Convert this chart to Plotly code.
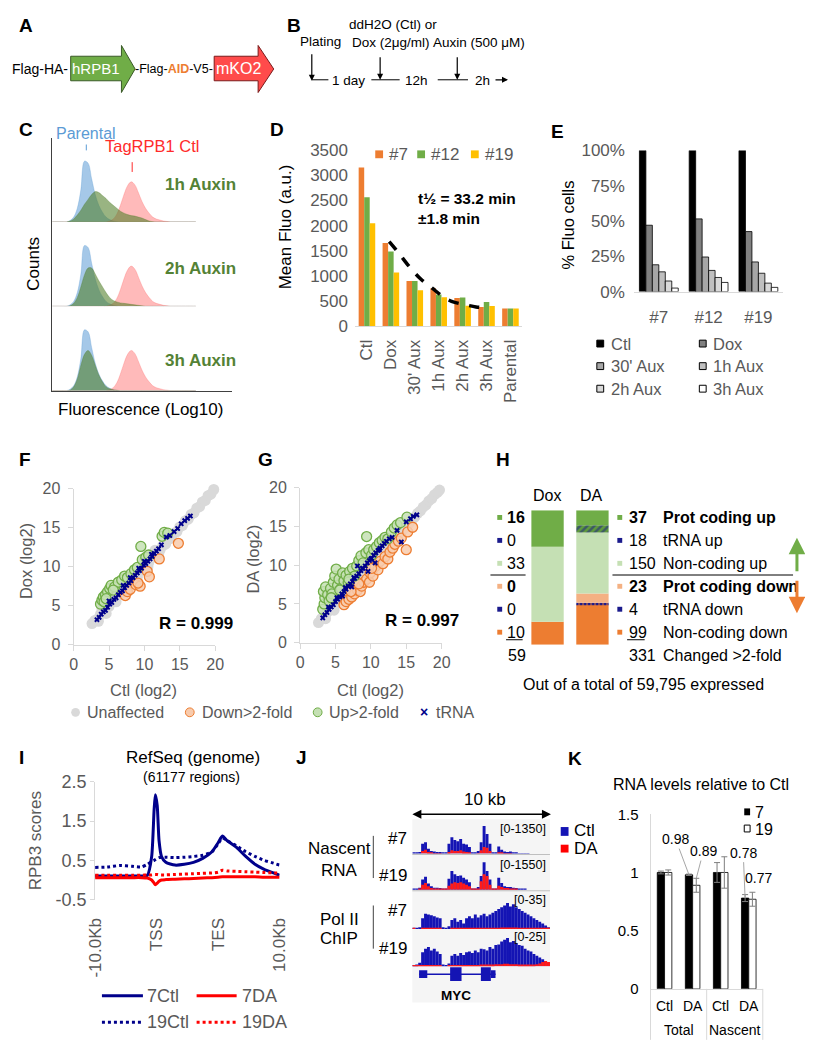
import plotly.graph_objects as go

# The page body keeps the browser's default 8px margin, so the figure is sized to
# fill the 813x1050 window exactly inside that margin.
PAD = 8
W, H = 813 - 2 * PAD, 1050 - 2 * PAD
def X(px): return (px - PAD) / W
def Y(py): return 1 - (py - PAD) / H

FONT = "Liberation Sans, Arial, Helvetica, sans-serif"
BLACK = "#000000"
GRAY = "#595959"
AXGRAY = "#d9d9d9"
ORANGE = "#ED7D31"
LORANGE = "#F4B183"
GREEN = "#70AD47"
LGREEN = "#C5E0B4"
YELLOW = "#FFC000"
NAVY = "#00008B"
RED = "#FF0000"

# ================= DATA =================
# Panel C : flow cytometry histograms (fluorescence bin -> counts)
C_bins = [0, 2, 4, 6, 8, 10, 12, 14, 16, 18, 20, 22, 24, 26, 28, 30, 32, 34, 36, 38, 40,
          42, 44, 46, 48, 50, 52, 54, 56, 58, 60, 62, 64, 66, 68, 70, 72, 74, 76, 78, 80]
C_parental = [0, 0, 0, 0, 0, 1.5, 5, 14, 33, 62, 60, 44, 28, 17, 10, 5, 2.5, 1, 0.3, 0, 0,
              0, 0, 0, 0, 0, 0, 0, 0, 0, 0, 0, 0, 0, 0, 0, 0, 0, 0, 0, 0]
C_tag_ctl = [0, 0, 0, 0, 0, 0, 0, 0, 0, 0, 0, 0, 0, 0, 0, 0, 1, 3, 8, 17, 28,
             37, 41, 38, 30, 21, 14, 9, 5, 3, 2, 1, 0.5, 0, 0, 0, 0, 0, 0, 0, 0]
C_aux_1h = [0, 0, 0, 0, 0, 1, 3, 7, 12, 18, 23, 28, 31, 30, 27, 24, 20, 17, 14, 11, 9,
            7.5, 6.5, 6, 5, 4, 2.5, 1, 0.3, 0, 0, 0, 0, 0, 0, 0, 0, 0, 0, 0, 0]
C_aux_2h = [0, 0, 0, 0, 0, 0.5, 3, 9, 20, 32, 39, 39, 33, 26, 20, 14, 9, 6, 4.5, 3.5, 3,
            2.5, 2, 1.5, 1, 0.5, 0, 0, 0, 0, 0, 0, 0, 0, 0, 0, 0, 0, 0, 0, 0]
C_aux_3h = [0, 0, 0, 0, 0, 0.5, 4, 12, 26, 37, 41, 36, 26, 16, 9, 4, 2, 1, 0.3, 0, 0,
            0, 0, 0, 0, 0, 0, 0, 0, 0, 0, 0, 0, 0, 0, 0, 0, 0, 0, 0, 0]
C_rows = ["1h Auxin", "2h Auxin", "3h Auxin"]

# Panel D : mean fluorescence
D_conditions = ["Ctl", "Dox", "30' Aux", "1h Aux", "2h Aux", "3h Aux", "Parental"]
D_clones = ["#7", "#12", "#19"]
D_clone7 = [3160, 1655, 895, 750, 555, 375, 347]
D_clone12 = [2565, 1485, 895, 625, 565, 478, 347]
D_clone19 = [2045, 1066, 710, 570, 400, 395, 347]
D_fit_pos = [0.93, 1.3, 1.78, 2.25, 2.73, 3.13, 3.54, 4.22, 4.56, 4.97]
D_fit_val = [1680, 1470, 1178, 935, 752, 602, 491, 412, 379, 360]

# Panel E : % fluorescent cells
E_clones = ["#7", "#12", "#19"]
E_conditions = ["Ctl", "Dox", "30' Aux", "1h Aux", "2h Aux", "3h Aux"]
E_ctl = [100, 100, 100]
E_dox = [47, 51.5, 42.5]
E_30m = [19, 24.5, 21]
E_1h = [14, 15, 13]
E_2h = [7.5, 10, 6]
E_3h = [2.5, 6.5, 3]
E_ticks = [0, 25, 50, 75, 100]

# Panel F : Dox vs Ctl (log2)
F_unaff_x = [2.6, 3.0, 3.4, 3.8, 4.2, 4.6, 5.0, 5.4, 5.8, 6.2, 6.6, 7.0, 7.4, 7.8, 8.2, 8.6, 9.0,
             9.4, 9.8, 10.2, 10.6, 11.0, 11.4, 11.8, 12.2, 12.6, 13.0, 13.4, 13.8, 14.2, 14.6,
             15.0, 15.4, 15.8, 16.2, 16.6, 17.0, 17.4, 17.8, 18.2, 18.6, 19.0, 19.4, 19.8,
             3.5, 4.6, 6.0, 7.5, 9.0, 10.5, 12.0, 4.0, 5.5, 7.0, 8.5, 10.0, 11.5]
F_unaff_y = [2.7, 3.1, 3.3, 3.9, 4.1, 4.7, 4.9, 5.5, 5.7, 6.3, 6.5, 7.1, 7.3, 7.9, 8.1, 8.7, 8.9,
             9.5, 9.7, 10.3, 10.5, 11.1, 11.3, 11.9, 12.1, 12.7, 12.9, 13.5, 13.7, 14.3, 14.5,
             15.1, 15.3, 15.9, 16.1, 16.7, 16.9, 17.5, 17.7, 18.3, 18.5, 19.1, 19.3, 19.9,
             3.0, 4.0, 5.5, 7.0, 8.6, 10.0, 11.6, 4.6, 6.0, 7.6, 9.1, 10.6, 12.1]
F_down_x = [7.3, 7.6, 8.0, 8.8, 9.4, 10.4, 10.7, 12.1, 14.8, 9.1]
F_down_y = [6.3, 6.8, 7.1, 7.7, 7.5, 9.4, 8.7, 11.0, 13.0, 7.9]
F_up_x = [3.8, 4.0, 4.2, 4.3, 4.5, 4.8, 5.1, 5.3, 5.8, 6.3, 6.8, 7.2, 7.6, 8.1, 8.6, 9.0, 9.5,
          9.7, 10.2, 10.6, 12.5, 12.8, 13.3, 5.6, 4.6]
F_up_y = [5.2, 5.7, 6.1, 5.5, 6.4, 6.8, 7.2, 7.6, 7.4, 8.0, 8.3, 8.8, 8.6, 9.1, 9.6, 9.9, 12.6,
          10.9, 11.2, 11.5, 13.9, 14.4, 14.3, 7.0, 5.9]
F_trna_x = [3.3, 3.6, 3.9, 4.2, 4.5, 4.8, 5.1, 5.4, 5.7, 6.0, 6.3, 6.6, 6.9, 7.2, 7.5, 7.8, 8.1,
            8.4, 8.7, 9.0, 9.3, 9.6, 9.9, 10.2, 10.5, 10.8, 11.1, 11.4, 11.7, 12.0, 12.4, 13.1,
            13.6, 14.2, 14.7, 15.2, 15.7, 16.1, 16.5, 8.0, 9.2, 10.0, 7.0, 5.0, 11.0]
F_trna_y = [3.2, 3.5, 3.9, 4.2, 4.4, 4.8, 5.2, 5.4, 5.8, 6.0, 6.4, 6.7, 6.9, 7.3, 7.6, 7.9, 8.2,
            8.6, 8.9, 9.2, 9.5, 9.8, 10.2, 10.4, 10.7, 11.0, 11.3, 11.7, 12.0, 12.3, 12.8, 13.8,
            14.0, 14.5, 14.9, 15.5, 15.9, 16.2, 16.5, 8.6, 9.8, 10.7, 7.6, 5.6, 11.6]

# Panel G : DA vs Ctl (log2)
G_unaff_x = [2.6, 3.0, 3.4, 3.8, 4.2, 4.6, 5.0, 5.4, 5.8, 6.2, 6.6, 7.0, 7.4, 7.8, 8.2, 8.6, 9.0,
             9.4, 9.8, 10.2, 10.6, 11.0, 11.4, 11.8, 12.2, 12.6, 13.0, 13.4, 13.8, 14.2, 14.6,
             15.0, 15.4, 15.8, 16.2, 16.6, 17.0, 17.4, 17.8, 18.2, 18.6, 19.0, 19.4, 19.7,
             3.6, 4.8, 6.1, 7.4, 8.9, 10.4, 12.1, 4.1, 5.6, 7.1, 8.4, 9.9, 11.4]
G_unaff_y = [2.6, 3.1, 3.4, 3.9, 4.2, 4.7, 5.0, 5.5, 5.8, 6.3, 6.6, 7.1, 7.4, 7.9, 8.2, 8.7, 9.0,
             9.5, 9.8, 10.3, 10.6, 11.1, 11.4, 11.9, 12.2, 12.7, 13.0, 13.5, 13.8, 14.3, 14.6,
             15.1, 15.4, 15.9, 16.2, 16.7, 17.0, 17.5, 17.8, 18.3, 18.6, 19.1, 19.4, 19.7,
             3.1, 4.2, 5.6, 6.9, 8.4, 9.9, 11.6, 4.7, 6.1, 7.6, 9.0, 10.5, 11.9]
G_down_x = [6.2, 6.5, 6.9, 7.3, 7.7, 8.1, 8.5, 8.7, 9.0, 9.4, 9.8, 9.9, 10.3, 10.6, 11.0, 11.3,
            11.7, 12.0, 12.4, 12.7, 13.1, 13.4, 13.9, 14.3, 15.0, 15.2, 15.9, 7.2, 8.3, 10.1]
G_down_y = [4.9, 5.3, 5.6, 5.9, 6.3, 6.8, 6.6, 7.3, 7.8, 8.2, 7.8, 9.0, 8.6, 9.8, 9.4, 10.5,
            10.2, 11.1, 10.8, 11.7, 12.2, 12.7, 13.1, 13.5, 12.0, 14.3, 14.9, 6.6, 7.6, 9.6]
G_up_x = [3.2, 3.4, 3.5, 3.3, 3.6, 3.9, 4.1, 4.3, 4.5, 4.7, 4.9, 5.1, 5.3, 5.5, 5.8, 6.0, 6.2,
          6.5, 6.8, 7.0, 7.4, 7.7, 8.0, 8.3, 8.6, 8.9, 9.3, 9.4, 9.7, 10.1, 10.4, 10.8, 11.2,
          11.6, 12.0, 12.4, 12.9, 13.3, 13.7, 14.2, 15.1, 6.9, 5.6, 4.4]
G_up_y = [4.3, 5.0, 5.8, 6.6, 7.2, 6.2, 5.4, 7.0, 6.3, 7.8, 8.6, 9.5, 7.4, 8.2, 7.0, 9.0, 8.0,
          8.7, 7.8, 9.2, 9.6, 8.6, 9.9, 10.6, 11.2, 10.3, 11.6, 13.7, 12.0, 11.3, 12.0, 12.4,
          12.9, 13.2, 13.6, 13.4, 14.3, 14.8, 15.2, 15.5, 16.2, 8.2, 6.8, 5.8]
G_trna_x = [3.2, 3.5, 3.8, 4.1, 4.4, 4.7, 5.0, 5.3, 5.6, 5.9, 6.2, 6.5, 6.8, 7.1, 7.4, 7.7, 8.0,
            8.3, 8.6, 8.9, 9.2, 9.5, 9.8, 10.1, 10.4, 10.7, 11.0, 11.3, 11.6, 11.9, 12.2, 12.6,
            4.0, 5.2, 6.4, 7.6, 8.8, 10.0, 11.2, 6.0, 7.3, 8.1, 9.6, 10.6,
            13.0, 13.7, 14.3, 15.0, 15.6, 16.0, 16.5]
G_trna_y = [3.2, 3.6, 3.9, 4.3, 4.6, 4.9, 5.3, 5.6, 5.9, 6.3, 6.6, 6.9, 7.3, 7.6, 7.9, 8.3, 8.6,
            8.9, 9.3, 9.6, 9.9, 10.3, 10.6, 10.9, 11.3, 11.6, 11.9, 12.2, 12.5, 12.8, 13.1, 13.4,
            4.6, 5.8, 7.1, 8.4, 9.6, 10.8, 12.0, 6.0, 7.2, 9.9, 9.2, 10.3,
            13.6, 14.5, 13.0, 15.6, 16.0, 16.3, 16.5]

# Panel H : number of changed transcripts (top to bottom)
H_types = ["Prot coding up", "tRNA up", "Non-coding up",
           "Prot coding down", "tRNA down", "Non-coding down"]
H_dox = [16, 0, 33, 0, 0, 10]
H_da = [37, 18, 150, 23, 4, 99]
H_expressed = "59,795"

# Panel I : metagene profile (position: 0=-10kb, 1=TSS, 2=TES, 3=+10kb)
I_pos = [0, 0.2, 0.4, 0.6, 0.75, 0.85, 0.92, 0.96, 0.98, 1.01, 1.04, 1.08, 1.15, 1.3, 1.45,
         1.6, 1.75, 1.9, 2.0, 2.07, 2.15, 2.3, 2.45, 2.6, 2.75, 2.9, 3.0]
I_7ctl = [0.1, 0.1, 0.1, 0.1, 0.1, 0.12, 0.6, 1.8, 2.17, 1.9, 1.0, 0.6, 0.45, 0.38, 0.4,
          0.45, 0.55, 0.72, 0.95, 1.12, 1.0, 0.83, 0.6, 0.4, 0.27, 0.18, 0.12]
I_19ctl = [0.32, 0.33, 0.37, 0.35, 0.33, 0.4, 0.47, 0.5, 0.52, 0.55, 0.57, 0.58, 0.58, 0.57,
           0.58, 0.6, 0.63, 0.72, 0.92, 1.07, 1.0, 0.87, 0.72, 0.6, 0.5, 0.43, 0.38]
I_7da = [0.06, 0.06, 0.06, 0.06, 0.06, 0.05, 0.0, -0.08, -0.12, -0.08, -0.03, 0.0, 0.01, 0.02,
         0.03, 0.04, 0.05, 0.06, 0.07, 0.08, 0.08, 0.08, 0.08, 0.08, 0.07, 0.07, 0.07]
I_19da = [0.12, 0.12, 0.12, 0.12, 0.12, 0.13, 0.13, 0.14, 0.14, 0.14, 0.13, 0.13, 0.13, 0.14,
          0.15, 0.16, 0.17, 0.18, 0.2, 0.25, 0.23, 0.22, 0.21, 0.2, 0.19, 0.18, 0.18]

# Panel J : genome browser tracks (normalised height per bin)
J_nas7_ctl = [0.02, 0.02, 0.05, 0.3, 0.35, 0.15, 0.08, 0.06, 0.05, 0.05, 0.02, 0.02, 0.3, 0.5,
              0.42, 0.38, 0.45, 0.3, 0.28, 0.2, 0.03, 0.03, 0.08, 0.35, 0.85, 0.6, 0.3, 0.03,
              0.02, 0.22, 0.12, 0.06, 0.05, 0.06, 0.04, 0.03, 0.01, 0.01, 0.01, 0.01, 0, 0, 0,
              0, 0, 0, 0]
J_nas7_da = [0, 0, 0, 0.08, 0.12, 0.05, 0.02, 0.01, 0.01, 0.01, 0, 0, 0.05, 0.1, 0.08, 0.08,
             0.1, 0.06, 0.05, 0.04, 0, 0, 0.01, 0.1, 0.2, 0.18, 0.08, 0, 0, 0.03, 0.02, 0.01,
             0.01, 0.01, 0, 0, 0, 0, 0, 0, 0, 0, 0, 0, 0, 0, 0]
J_nas19_ctl = [0.02, 0.02, 0.06, 0.3, 0.38, 0.18, 0.1, 0.06, 0.06, 0.05, 0.03, 0.02, 0.32, 0.55,
               0.45, 0.4, 0.42, 0.35, 0.3, 0.22, 0.03, 0.04, 0.08, 0.4, 0.8, 0.55, 0.3, 0.04,
               0.03, 0.35, 0.2, 0.1, 0.08, 0.08, 0.06, 0.05, 0.02, 0.01, 0.01, 0, 0, 0, 0, 0,
               0, 0, 0]
J_nas19_da = [0, 0, 0.02, 0.15, 0.2, 0.1, 0.05, 0.04, 0.03, 0.03, 0.01, 0.01, 0.12, 0.18, 0.22,
              0.2, 0.22, 0.18, 0.15, 0.1, 0.01, 0.01, 0.03, 0.25, 0.45, 0.4, 0.15, 0.01, 0.01,
              0.12, 0.08, 0.05, 0.05, 0.04, 0.03, 0.02, 0, 0, 0, 0, 0, 0, 0, 0, 0, 0, 0]
J_chip7_ctl = [0.03, 0.03, 0.05, 0.3, 0.42, 0.4, 0.38, 0.35, 0.32, 0.3, 0.05, 0.03, 0.08, 0.25,
               0.3, 0.2, 0.25, 0.15, 0.3, 0.35, 0.3, 0.4, 0.32, 0.38, 0.42, 0.35, 0.4, 0.45,
               0.5, 0.55, 0.6, 0.65, 0.72, 0.62, 0.68, 0.6, 0.55, 0.5, 0.45, 0.4, 0.35, 0.3,
               0.25, 0.2, 0.15, 0.1, 0.05]
J_chip7_da = [0.02, 0, 0, 0.02, 0.03, 0.02, 0.02, 0.02, 0.02, 0.02, 0, 0, 0, 0.02, 0.02, 0.01,
              0.02, 0.01, 0.02, 0.02, 0.02, 0.03, 0.02, 0.02, 0.03, 0.02, 0.03, 0.03, 0.03,
              0.03, 0.04, 0.04, 0.04, 0.04, 0.04, 0.04, 0.03, 0.03, 0.03, 0.03, 0.02, 0.02,
              0.02, 0.02, 0.03, 0.03, 0.03]
J_chip19_ctl = [0.03, 0.05, 0.1, 0.4, 0.5, 0.55, 0.45, 0.5, 0.42, 0.35, 0.05, 0.03, 0.08, 0.3,
                0.35, 0.3, 0.38, 0.32, 0.4, 0.42, 0.38, 0.45, 0.4, 0.5, 0.48, 0.45, 0.55, 0.5,
                0.6, 0.62, 0.7, 0.75, 0.8, 0.68, 0.72, 0.65, 0.6, 0.58, 0.5, 0.45, 0.42, 0.35,
                0.3, 0.25, 0.2, 0.15, 0.1]
J_chip19_da = [0.02, 0.02, 0.02, 0.03, 0.04, 0.04, 0.03, 0.03, 0.03, 0.03, 0, 0, 0.01, 0.03,
               0.03, 0.03, 0.03, 0.03, 0.03, 0.04, 0.04, 0.04, 0.04, 0.05, 0.05, 0.05, 0.05,
               0.05, 0.06, 0.06, 0.06, 0.07, 0.07, 0.06, 0.06, 0.06, 0.05, 0.05, 0.05, 0.05,
               0.05, 0.05, 0.06, 0.08, 0.12, 0.15, 0.12]
J_ranges = ["[0-1350]", "[0-1550]", "[0-35]", "[0-25]"]
J_track_names = ["#7", "#19", "#7", "#19"]
MYC_exon_start = [1.8, 12.4, 22.9, 26.3]
MYC_exon_end = [4.6, 16.3, 26.3, 27.9]
MYC_exon_tall = [False, True, True, False]

# Panel K : RNA levels relative to Ctl
K_groups = ["Total", "Total", "Nascent", "Nascent"]
K_conds = ["Ctl", "DA", "Ctl", "DA"]
K_clone7 = [1.0, 0.98, 1.0, 0.78]
K_clone7_err = [0.012, 0.006, 0.085, 0.03]
K_clone19 = [1.0, 0.89, 1.0, 0.77]
K_clone19_err = [0.022, 0.06, 0.135, 0.06]

# ================= FIGURE =================
fig = go.Figure()
ann, shp = [], []

def T(x, y, s, size=14, color=BLACK, xa='center', ya='middle', angle=0):
    ann.append(dict(x=X(x), y=Y(y), xref='paper', yref='paper', text=s, showarrow=False,
                    font=dict(size=size, color=color, family=FONT), xanchor=xa, yanchor=ya,
                    textangle=angle))

def L(x0, y0, x1, y1, color=BLACK, width=1, dash='solid'):
    shp.append(dict(type='line', xref='paper', yref='paper', x0=X(x0), y0=Y(y0), x1=X(x1),
                    y1=Y(y1), line=dict(color=color, width=width, dash=dash)))

def R(x0, y0, x1, y1, fill, line=None, lw=1, layer='above'):
    shp.append(dict(type='rect', xref='paper', yref='paper', x0=X(x0), y0=Y(y0), x1=X(x1),
                    y1=Y(y1), fillcolor=fill, layer=layer,
                    line=dict(color=line if line else fill, width=lw if line else 0)))

def CIRC(cx, cy, r, fill, line=None):
    shp.append(dict(type='circle', xref='paper', yref='paper', x0=X(cx - r), y0=Y(cy + r),
                    x1=X(cx + r), y1=Y(cy - r), fillcolor=fill,
                    line=dict(color=line if line else fill, width=1 if line else 0)))

def POLY(pts, fill, line):
    path = 'M ' + ' L '.join(f'{X(a):.5f},{Y(b):.5f}' for a, b in pts) + ' Z'
    shp.append(dict(type='path', xref='paper', yref='paper', path=path, fillcolor=fill,
                    line=dict(color=line, width=1)))

def ARW(xt, yt, xs, ys, color=BLACK, width=1.2, head=2, size=1.0):
    ann.append(dict(x=X(xt), y=Y(yt), xref='paper', yref='paper', ax=xs - xt, ay=ys - yt,
                    axref='pixel', ayref='pixel', text='', showarrow=True, arrowhead=head,
                    arrowsize=size, arrowwidth=width, arrowcolor=color))

def letter(x, y, s):
    T(max(x, PAD), y, f'<b>{s}</b>', 19, BLACK, 'left')

# ---------- Panel A ----------
letter(0, 16, 'A')
T(62, 60, 'Flag-HA-', 14, xa='right')
POLY([(63, 47), (115, 47), (115, 36), (129, 60), (115, 84), (115, 72), (63, 72)], GREEN, '#3a5a28')
T(89, 60, 'hRPB1', 15, 'white')
T(169, 60, '-Flag-<span style="color:#ED7D31"><b>AID</b></span>-V5-', 12.5)
POLY([(210, 47), (255, 47), (255, 36), (271, 60), (255, 84), (255, 72), (210, 72)], '#FF4B4B', '#7a1a1a')
T(235, 60, 'mKO2', 16, 'white')

# ---------- Panel B ----------
letter(283, 16, 'B')
T(319, 32, 'Plating', 13.5)
T(393, 15, 'ddH2O (Ctl) or', 13.5)
T(391, 33, 'Dox (2μg/ml)', 13.5)
T(481, 33, 'Auxin (500 μM)', 13.5)
ARW(310, 72, 310, 44)
ARW(380, 71, 380, 47)
ARW(459, 71, 459, 47)
L(310, 71, 327, 71)
L(371, 71, 400, 71)
L(439, 71, 470, 71)
ARW(511, 71, 497, 71)
T(348, 72, '1 day', 13.5)
T(417, 72, '12h', 13.5)
T(485, 72, '2h', 13.5)

# ---------- Panel C ----------
letter(3, 122, 'C')
rows_axes = ['y', 'y2', 'y3']
greens = [C_aux_1h, C_aux_2h, C_aux_3h]
for ya, gser in zip(rows_axes, greens):
    fig.add_trace(go.Scatter(x=C_bins, y=C_parental, xaxis='x', yaxis=ya, mode='lines',
                             line=dict(color='rgba(91,155,213,0.6)', width=0.5, shape='spline'),
                             fill='tozeroy', fillcolor='rgba(91,155,213,0.55)', hoverinfo='skip'))
    fig.add_trace(go.Scatter(x=C_bins, y=C_tag_ctl, xaxis='x', yaxis=ya, mode='lines',
                             line=dict(color='rgba(255,90,90,0.5)', width=0.5, shape='spline'),
                             fill='tozeroy', fillcolor='rgba(255,90,90,0.42)', hoverinfo='skip'))
    fig.add_trace(go.Scatter(x=C_bins, y=gser, xaxis='x', yaxis=ya, mode='lines',
                             line=dict(color='rgba(80,125,40,0.6)', width=0.5, shape='spline'),
                             fill='tozeroy', fillcolor='rgba(80,125,40,0.58)', hoverinfo='skip'))
T(79, 126, 'Parental', 16, '#5B9BD5')
L(79, 137, 79, 143, '#5B9BD5', 1)
T(146, 139, 'TagRPB1 Ctl', 16.5, '#FF2B2B')
L(126, 155, 126, 165, '#FF2B2B', 1)
for lab, yy in zip(C_rows, [178, 263, 357]):
    T(196, yy, f'<b>{lab}</b>', 17, '#548235')
T(25, 259, 'Counts', 17, angle=-90)
T(135, 407, 'Fluorescence (Log10)', 17)

# ---------- Panel D ----------
letter(265, 122, 'D')
slotD = 0.231
for i, (vals, col) in enumerate(zip([D_clone7, D_clone12, D_clone19], [ORANGE, GREEN, YELLOW])):
    fig.add_trace(go.Bar(x=list(range(len(D_conditions))), y=vals, xaxis='x2', yaxis='y4',
                         width=slotD, offset=-1.5 * slotD + i * slotD,
                         marker=dict(color=col, line=dict(width=0)), hoverinfo='skip'))
fig.add_trace(go.Scatter(x=D_fit_pos, y=D_fit_val, xaxis='x2', yaxis='y4', mode='lines',
                         line=dict(color=BLACK, width=3.5, dash='dash', shape='spline'),
                         hoverinfo='skip'))
T(283, 221, 'Mean Fluo (a.u.)', 17, angle=-90)
T(417, 192, '<b>t½ = 33.2 min</b>', 15.5, xa='left')
T(417, 212, '<b>±1.8 min</b>', 15.5, xa='left')
for (sx, tx), lab, col in zip([(375, 387), (418, 430), (473, 485)], D_clones, [ORANGE, GREEN, YELLOW]):
    R(sx, 143, sx + 8, 151, col)
    T(tx, 147, lab, 17, GRAY, 'left')

# ---------- Panel E ----------
letter(553, 124, 'E')
E_series = [E_ctl, E_dox, E_30m, E_1h, E_2h, E_3h]
E_colors = ['#000000', '#808080', '#A6A6A6', '#BFBFBF', '#D9D9D9', '#FFFFFF']
slotE = 0.13
for i, (vals, col) in enumerate(zip(E_series, E_colors)):
    fig.add_trace(go.Bar(x=E_clones, y=vals, xaxis='x3', yaxis='y5', width=slotE,
                         offset=-3 * slotE + i * slotE,
                         marker=dict(color=col, line=dict(color=BLACK, width=0.8)),
                         hoverinfo='skip'))
T(572, 219, '% Fluo cells', 16.5, angle=-90)
for k, (lab, col) in enumerate(zip(E_conditions, E_colors)):
    r, c = divmod(k, 2)
    yy = [340, 363, 386][r]
    sx = [602, 707][c]
    R(sx, yy - 3.5, sx + 7, yy + 3.5, col, BLACK, 1)
    T(sx + 12, yy, lab, 16.5, GRAY, 'left')

# ---------- Panels F & G ----------
letter(0, 458, 'F')
letter(253, 458, 'G')
def scatter_set(xa, ya, ux, uy, dx, dy, upx, upy, tx, ty):
    fig.add_trace(go.Scatter(x=ux, y=uy, xaxis=xa, yaxis=ya, mode='markers', cliponaxis=False,
                             marker=dict(size=11, color='#D9D9D9', line=dict(width=0)),
                             hoverinfo='skip'))
    fig.add_trace(go.Scatter(x=dx, y=dy, xaxis=xa, yaxis=ya, mode='markers', cliponaxis=False,
                             marker=dict(size=10, color='rgba(248,203,173,0.85)',
                                         line=dict(color=ORANGE, width=1.3)), hoverinfo='skip'))
    fig.add_trace(go.Scatter(x=upx, y=upy, xaxis=xa, yaxis=ya, mode='markers', cliponaxis=False,
                             marker=dict(size=10, color='rgba(197,224,180,0.85)',
                                         line=dict(color=GREEN, width=1.3)), hoverinfo='skip'))
    fig.add_trace(go.Scatter(x=tx, y=ty, xaxis=xa, yaxis=ya, mode='markers', cliponaxis=False,
                             marker=dict(size=5, symbol='x', color=NAVY, line=dict(width=0)),
                             hoverinfo='skip'))
scatter_set('x4', 'y6', F_unaff_x, F_unaff_y, F_down_x, F_down_y, F_up_x, F_up_y, F_trna_x, F_trna_y)
scatter_set('x5', 'y7', G_unaff_x, G_unaff_y, G_down_x, G_down_y, G_up_x, G_up_y, G_trna_x, G_trna_y)
T(18, 562, 'Dox (log2)', 16.5, GRAY, angle=-90)
T(138, 693, 'Ctl (log2)', 16.5, GRAY)
T(250, 560, 'DA (log2)', 16.5, GRAY, angle=-90)
T(370, 693, 'Ctl (log2)', 16.5, GRAY)
T(191, 625, '<b>R = 0.999</b>', 17)
T(423, 622, '<b>R = 0.997</b>', 17)
CIRC(68, 716, 4.5, '#D9D9D9')
T(78, 716, 'Unaffected', 16, GRAY, 'left')
CIRC(185, 716, 4.5, '#F8CBAD', ORANGE)
T(195, 716, 'Down>2-fold', 16, GRAY, 'left')
CIRC(316, 716, 4.5, LGREEN, GREEN)
T(326, 716, 'Up>2-fold', 16, GRAY, 'left')
T(425, 716, '<b>×</b>', 14, NAVY)
T(435, 716, 'tRNA', 16, GRAY, 'left')

# ---------- Panel H ----------
letter(497, 458, 'H')
tot_dox = sum(H_dox)
tot_da = sum(H_da)
H_fill = [GREEN, GREEN, LGREEN, LORANGE, ORANGE, ORANGE]
H_pattern = [None, dict(shape='/', fgcolor='#1a1a8c', bgcolor='#5f9a3c', size=5, solidity=0.5),
             None, None, dict(shape='|', fgcolor=ORANGE, bgcolor='#1a1a8c', size=4, solidity=0.5),
             None]
base_dox, base_da = 0.0, 0.0
for k in reversed(range(len(H_types))):
    pd_ = H_dox[k] / tot_dox * 100
    pa_ = H_da[k] / tot_da * 100
    mk = dict(color=H_fill[k], line=dict(width=0))
    if H_pattern[k]:
        mk['pattern'] = H_pattern[k]
    fig.add_trace(go.Bar(x=[0, 1], y=[pd_, pa_], base=[base_dox, base_da], xaxis='x6', yaxis='y8',
                         width=0.72, offset=-0.36, marker=mk, hoverinfo='skip'))
    base_dox += pd_
    base_da += pa_
T(551, 495, 'Dox', 16)
T(597, 495, 'DA', 16)
H_row_y = [517.3, 540.7, 564.1, 587.5, 610.9, 634.3]
for k, yy in enumerate(H_row_y):
    bold = k in (0, 3)
    col = H_fill[k] if H_pattern[k] is None else '#1a1a8c'
    R(500, yy - 2.5, 505, yy + 2.5, col)
    R(623, yy - 2.5, 628, yy + 2.5, col)
    nd = f'<b>{H_dox[k]}</b>' if bold else str(H_dox[k])
    na = f'<b>{H_da[k]}</b>' if bold else str(H_da[k])
    lb = f'<b>{H_types[k]}</b>' if bold else H_types[k]
    T(508, yy, nd, 16, BLACK, 'left')
    T(633, yy, na, 16, BLACK, 'left')
    T(668, yy, lb, 16, BLACK, 'left')
T(509, 658, str(tot_dox), 16, BLACK, 'left')
T(633, 658, str(tot_da), 16, BLACK, 'left')
T(668, 658, 'Changed >2-fold', 16, BLACK, 'left')
L(509, 642, 526, 642)
L(633, 642, 651, 642)
L(493, 576, 529, 576)
L(618, 576, 803, 576)
ARW(807, 538, 807, 573, GREEN, 3, 2, 1.1)
ARW(807, 615, 807, 581, ORANGE, 3, 2, 1.1)
T(650, 688, f'Out of a total of {H_expressed} expressed', 16)

# ---------- Panel I ----------
letter(5, 762, 'I')
fig.add_trace(go.Scatter(x=I_pos, y=I_7ctl, xaxis='x7', yaxis='y9', mode='lines',
                         line=dict(color=NAVY, width=3, shape='spline', smoothing=0.6), hoverinfo='skip'))
fig.add_trace(go.Scatter(x=I_pos, y=I_19ctl, xaxis='x7', yaxis='y9', mode='lines',
                         line=dict(color=NAVY, width=3, dash='dot', shape='spline', smoothing=0.6),
                         hoverinfo='skip'))
fig.add_trace(go.Scatter(x=I_pos, y=I_7da, xaxis='x7', yaxis='y9', mode='lines',
                         line=dict(color=RED, width=3, shape='spline', smoothing=0.6), hoverinfo='skip'))
fig.add_trace(go.Scatter(x=I_pos, y=I_19da, xaxis='x7', yaxis='y9', mode='lines',
                         line=dict(color=RED, width=3, dash='dot', shape='spline', smoothing=0.6),
                         hoverinfo='skip'))
T(188, 762, 'RefSeq (genome)', 17)
T(187, 782, '(61177 regions)', 14)
T(27, 847, 'RPB3 scores', 17, GRAY, angle=-90)
L(95, 1005, 137, 1005, NAVY, 3)
T(139, 1005, '7Ctl', 18, GRAY, 'left')
L(192, 1005, 233, 1005, RED, 3)
T(236, 1005, '7DA', 18, GRAY, 'left')
L(95, 1032, 137, 1032, NAVY, 3, 'dot')
T(139, 1032, '19Ctl', 18, GRAY, 'left')
L(192, 1032, 233, 1032, RED, 3, 'dot')
T(236, 1032, '19DA', 18, GRAY, 'left')

# ---------- Panel J ----------
letter(292, 762, 'J')
R(413, 825, 554, 1012, '#f5f5f5', layer='below')
J_tracks = [(J_nas7_ctl, J_nas7_da, 'y10'), (J_nas19_ctl, J_nas19_da, 'y11'),
            (J_chip7_ctl, J_chip7_da, 'y12'), (J_chip19_ctl, J_chip19_da, 'y13')]
for ctl, da, ya in J_tracks:
    bins = list(range(len(ctl)))
    fig.add_trace(go.Bar(x=bins, y=ctl, xaxis='x8', yaxis=ya, width=1.0,
                         marker=dict(color='#1414B4', line=dict(width=0)), hoverinfo='skip'))
    fig.add_trace(go.Bar(x=bins, y=da, xaxis='x8', yaxis=ya, width=1.0,
                         marker=dict(color='#FF1A1A', line=dict(width=0)), hoverinfo='skip'))
L(413, 861, 554, 861, '#bfbfbf', 1)
L(413, 898, 554, 898, '#bfbfbf', 1)
T(487, 805, '10 kb', 17)
ARW(413, 820, 487, 820, BLACK, 1.5, 2, 1.2)
ARW(555, 820, 487, 820, BLACK, 1.5, 2, 1.2)
for rng, yy in zip(J_ranges, [835, 872, 907, 945]):
    T(552, yy, rng, 12.5, BLACK, 'right')
for nm, yy in zip(J_track_names, [845, 882, 918, 957]):
    T(410, yy, nm, 17, BLACK, 'right')
T(338, 855, 'Nascent', 17)
T(338, 877, 'RNA', 17)
T(338, 927, 'Pol II', 17)
T(338, 947, 'ChIP', 17)
L(373, 842, 373, 885, '#404040', 1)
L(373, 913, 373, 957, '#404040', 1)
shp.append(dict(type='line', xref='x8', yref='paper', x0=MYC_exon_start[0], x1=MYC_exon_end[-1],
                y0=Y(983), y1=Y(983), line=dict(color='#1414B4', width=1.5)))
for s, e, tall in zip(MYC_exon_start, MYC_exon_end, MYC_exon_tall):
    h = 7 if tall else 4
    shp.append(dict(type='rect', xref='x8', yref='paper', x0=s, x1=e, y0=Y(983 + h), y1=Y(983 - h),
                    fillcolor='#1414B4', line=dict(width=0)))
T(458, 1005, '<b>MYC</b>', 13.5)
R(565, 833, 573, 842, '#1414B4')
T(577, 837, 'Ctl', 17, BLACK, 'left')
R(565, 851, 573, 859, RED)
T(577, 855, 'DA', 17, BLACK, 'left')

# ---------- Panel K ----------
letter(570, 763, 'K')
slotK = 0.26
fig.add_trace(go.Bar(x=[K_groups, K_conds], y=K_clone7, xaxis='x9', yaxis='y14', width=slotK,
                     offset=-slotK, marker=dict(color=BLACK, line=dict(color=BLACK, width=0.8)),
                     error_y=dict(type='data', array=K_clone7_err, color='#7f7f7f', thickness=1,
                                  width=3), hoverinfo='skip'))
fig.add_trace(go.Bar(x=[K_groups, K_conds], y=K_clone19, xaxis='x9', yaxis='y14', width=slotK,
                     offset=0, marker=dict(color='white', line=dict(color=BLACK, width=0.8)),
                     error_y=dict(type='data', array=K_clone19_err, color='#7f7f7f', thickness=1,
                                  width=3), hoverinfo='skip'))
T(709, 790, 'RNA levels relative to Ctl', 16)
R(753, 814, 759, 821, BLACK)
T(762, 818, '7', 16, BLACK, 'left')
R(753, 831, 759, 838, 'white', BLACK, 1)
T(762, 835, '19', 16, BLACK, 'left')
K_x0, K_x1, K_y0, K_y1 = 657, 772, 998, 820
slot_px = (K_x1 - K_x0) / len(K_conds)
def kx(i, side):
    return K_x0 + (i + 0.5) * slot_px + side * slotK / 2 * slot_px
def ky(v):
    return K_y0 - v / 1.5 * (K_y0 - K_y1)
# two-level category labels and dividers
for i, c in enumerate(K_conds):
    T(kx(i, 0), 1015, c, 14)
grp_order = []
for i, g in enumerate(K_groups):
    if not grp_order or grp_order[-1][0] != g:
        grp_order.append([g, i, i])
    else:
        grp_order[-1][2] = i
for g, i0, i1 in grp_order:
    T((kx(i0, 0) + kx(i1, 0)) / 2, 1040, g, 14)
    L(K_x0 + i0 * slot_px, K_y0, K_x0 + i0 * slot_px, 1050, AXGRAY, 1)
L(K_x1, K_y0, K_x1, 1050, AXGRAY, 1)
def callout(xt, yt, xs, ys, s):
    ann.append(dict(x=X(xt), y=Y(yt), xref='paper', yref='paper', ax=xs - xt, ay=ys - yt,
                    axref='pixel', ayref='pixel', text=s, showarrow=True, arrowhead=0,
                    arrowwidth=1, arrowcolor='#a6a6a6', font=dict(size=14, family=FONT, color=BLACK)))
callout(kx(1, -1), ky(K_clone7[1]), 683, 846, f'{K_clone7[1]:.2f}')
callout(kx(1, 1), ky(K_clone19[1] + K_clone19_err[1]), 711, 858, f'{K_clone19[1]:.2f}')
callout(kx(3, -1), ky(K_clone7[3]), 752, 860, f'{K_clone7[3]:.2f}')
T(768, 885, f'{K_clone19[3]:.2f}', 14)

# ================= LAYOUT =================
noax = dict(showgrid=False, zeroline=False)
tick_gray = dict(size=17, color=GRAY, family=FONT)
layout = dict(
    width=W, height=H, autosize=False, margin=dict(l=0, r=0, t=0, b=0),
    paper_bgcolor='white', plot_bgcolor='white', showlegend=False, barmode='overlay',
    font=dict(family=FONT, color=BLACK),
    # C
    xaxis=dict(domain=[X(44), X(228)], range=[0, 100], anchor='y3', showline=True,
               linecolor='#404040', linewidth=1, showticklabels=False, ticks='', **noax),
    yaxis=dict(domain=[Y(216), Y(130)], range=[0, 86], anchor='x', showline=True,
               linecolor='#404040', showticklabels=False, ticks='', **noax),
    yaxis2=dict(domain=[Y(302), Y(216)], range=[0, 86], anchor='x', showline=True,
                linecolor='#404040', showticklabels=False, ticks='', **noax),
    yaxis3=dict(domain=[Y(388), Y(302)], range=[0, 86], anchor='x', showline=True,
                linecolor='#404040', showticklabels=False, ticks='', **noax),
    # D
    xaxis2=dict(domain=[X(354.25), X(525.75)], range=[-0.5, 6.5], anchor='y4',
                tickvals=list(range(len(D_conditions))), ticktext=D_conditions, tickangle=-90,
                tickfont=tick_gray, showline=True, linecolor=AXGRAY, ticks='',
                ticklabelstandoff=6, **noax),
    yaxis4=dict(domain=[Y(322), Y(143)], range=[0, 3500], dtick=500, anchor='x2',
                tickfont=tick_gray, showline=False, ticks='', ticklabelstandoff=6, **noax),
    # E
    xaxis3=dict(domain=[X(640), X(793)], type='category', range=[-0.5, 2.5], anchor='y5',
                tickfont=tick_gray, showline=True, linecolor=AXGRAY, ticks='',
                ticklabelstandoff=10, **noax),
    yaxis5=dict(domain=[Y(287), Y(143)], range=[0, 100], tickvals=E_ticks,
                ticktext=[f'{v}%' for v in E_ticks], anchor='x3', tickfont=tick_gray,
                showline=False, ticks='', ticklabelstandoff=8, **noax),
    # F
    xaxis4=dict(domain=[X(66), X(211)], range=[0, 20], dtick=5, anchor='y6', showline=True,
                linecolor=AXGRAY, ticks='outside', ticklen=5, tickcolor=AXGRAY,
                tickfont=dict(size=16, color=GRAY, family=FONT), **noax),
    yaxis6=dict(domain=[Y(647), Y(488)], range=[0, 20], dtick=5, anchor='x4', showline=True,
                linecolor=AXGRAY, ticks='outside', ticklen=5, tickcolor=AXGRAY,
                tickfont=dict(size=16, color=GRAY, family=FONT), ticklabelstandoff=4, **noax),
    # G
    xaxis5=dict(domain=[X(298), X(443)], range=[0, 20], dtick=5, anchor='y7', showline=True,
                linecolor=AXGRAY, ticks='outside', ticklen=5, tickcolor=AXGRAY,
                tickfont=dict(size=16, color=GRAY, family=FONT), **noax),
    yaxis7=dict(domain=[Y(645), Y(487)], range=[0, 20], dtick=5, anchor='x5', showline=True,
                linecolor=AXGRAY, ticks='outside', ticklen=5, tickcolor=AXGRAY,
                tickfont=dict(size=16, color=GRAY, family=FONT), ticklabelstandoff=4, **noax),
    # H
    xaxis6=dict(domain=[X(528.5), X(620.5)], range=[-0.5, 1.5], anchor='y8', visible=False, **noax),
    yaxis8=dict(domain=[Y(647), Y(510)], range=[0, 100], anchor='x6', visible=False, **noax),
    # I
    xaxis7=dict(domain=[X(88), X(277)], range=[0, 3], anchor='y9', tickvals=[0, 1, 2, 3],
                ticktext=['-10.0Kb', 'TSS', 'TES', '10.0Kb'], tickangle=-90,
                tickfont=dict(size=17, color=GRAY, family=FONT), showline=False, ticks='',
                ticklabelstandoff=14, **noax),
    yaxis9=dict(domain=[Y(907), Y(787)], range=[-0.5, 2.5], anchor='x7',
                tickvals=[-0.5, 0.5, 1.5, 2.5], ticktext=['-0.5', '0.5', '1.5', '2.5'],
                tickfont=dict(size=18, color=GRAY, family=FONT), showline=True,
                linecolor=AXGRAY, ticks='outside', ticklen=4, tickcolor=AXGRAY, **noax),
    # J
    xaxis8=dict(domain=[X(413), X(554)], range=[-0.5, 46.5], anchor='y13', visible=False, **noax),
    yaxis10=dict(domain=[Y(860), Y(827)], range=[0, 1], anchor='x8', visible=False, **noax),
    yaxis11=dict(domain=[Y(897), Y(862)], range=[0, 1], anchor='x8', visible=False, **noax),
    yaxis12=dict(domain=[Y(937), Y(900)], range=[0, 1], anchor='x8', visible=False, **noax),
    yaxis13=dict(domain=[Y(975), Y(939)], range=[0, 1], anchor='x8', visible=False, **noax),
    # K
    xaxis9=dict(domain=[X(657), X(772)], type='multicategory', anchor='y14', showline=True,
                linecolor=AXGRAY, showticklabels=False, showdividers=False, ticks='', **noax),
    yaxis14=dict(domain=[Y(998), Y(820)], range=[0, 1.5], anchor='x9',
                 tickvals=[0, 0.5, 1, 1.5], ticktext=['0', '0.5', '1', '1.5'],
                 tickfont=dict(size=15, color=BLACK, family=FONT), showline=True,
                 linecolor=AXGRAY, ticks='', ticklabelstandoff=8, **noax),
    annotations=ann, shapes=shp,
)
fig.update_layout(**layout)

fig.write_html("out.html", config={'displayModeBar': False})
